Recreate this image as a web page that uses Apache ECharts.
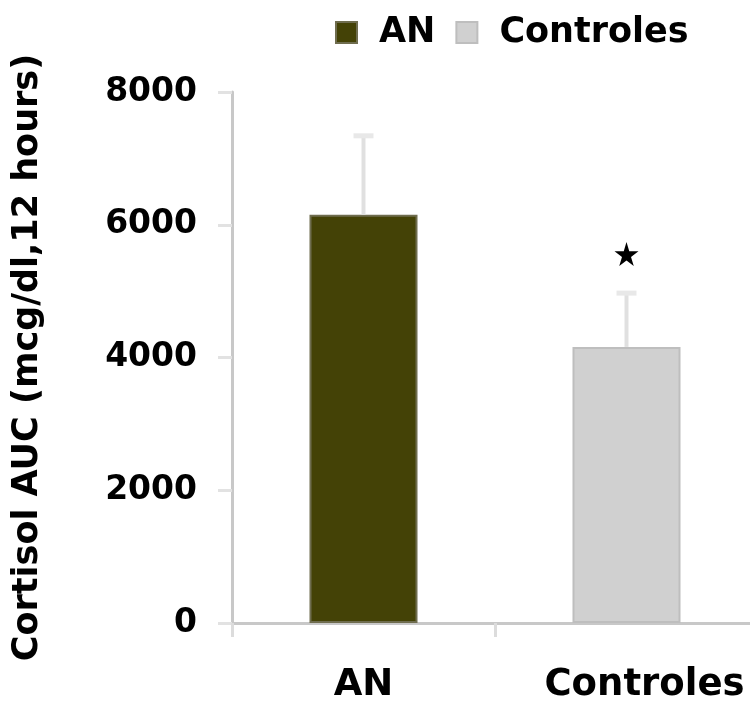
<!DOCTYPE html>
<html>
<head>
<meta charset="utf-8">
<script src="https://cdn.jsdelivr.net/npm/echarts@6/dist/echarts.min.js"></script>
<style>
  html, body { margin: 0; padding: 0; background: #fff; }
  #chart { width: 750px; height: 711px; }
</style>
</head>
<body>
<div id="chart"></div>
<script>
const categories = ["AN", "Controles"];
const means = [6150, 4160];
const errorTops = [7340, 4970];
const starValues = ["-", 5560];
const yTicks = [0, 2000, 4000, 6000, 8000];

const FONT = "DejaVu Sans";
const colors = ["#444206", "#d0d0d0"];
const borders = ["#6f6d4f", "#bebebe"];

const chart = echarts.init(document.getElementById("chart"));

const barSeries = categories.map((name, i) => ({
  name: name,
  type: "bar",
  data: categories.map((c, j) => (j === i ? means[j] : "-")),
  barWidth: 108,
  barGap: "-100%",
  itemStyle: { color: colors[i], borderColor: borders[i], borderWidth: 2 },
  z: 2,
}));

const option = {
  animation: false,
  legend: {
    data: categories,
    top: 10,
    left: 330,
    itemWidth: 21,
    itemHeight: 21,
    itemGap: 20,
    icon: "rect",
    textStyle: {
      fontFamily: FONT,
      fontWeight: "bold",
      fontSize: 35,
      color: "#000",
      padding: [4, 0, 0, 17],
    },
  },
  grid: {
    left: 232, right: -8, top: 92, bottom: 88,
    containLabel: false,
    outerBoundsMode: "none",
  },
  xAxis: {
    type: "category",
    data: [
      categories[0],
      { value: categories[1], textStyle: { padding: [0, 0, 0, 36] } },
    ],
    axisLine: { lineStyle: { color: "#c8c8c8", width: 3 } },
    axisTick: { show: true, length: 14, lineStyle: { color: "#dcdcdc", width: 3 } },
    axisLabel: {
      interval: 0,
      hideOverlap: false,
      margin: 44,
      fontFamily: FONT,
      fontWeight: "bold",
      fontSize: 37,
      color: "#000",
    },
  },
  yAxis: {
    type: "value",
    min: 0,
    max: yTicks[yTicks.length - 1],
    interval: 2000,
    name: "Cortisol AUC (mcg/dl,12 hours)",
    nameLocation: "middle",
    nameGap: 187,
    nameTextStyle: {
      fontFamily: FONT,
      fontWeight: "bold",
      fontSize: 35,
      color: "#000",
    },
    axisLine: { show: true, lineStyle: { color: "#c8c8c8", width: 3 } },
    axisTick: { show: true, length: 14, lineStyle: { color: "#e2e2e2", width: 3 } },
    splitLine: { show: false },
    axisLabel: {
      margin: 35,
      formatter: (v) => String(v),
      fontFamily: FONT,
      fontWeight: "bold",
      fontSize: 33,
      color: "#000",
    },
  },
  series: [
    ...barSeries,
    {
      name: "error",
      type: "custom",
      data: categories.map((c, i) => [i, means[i], errorTops[i]]),
      z: 3,
      renderItem: function (params, api) {
        const base = api.coord([api.value(0), api.value(1)]);
        const top = api.coord([api.value(0), api.value(2)]);
        const capHalf = 10;
        return {
          type: "group",
          children: [
            {
              type: "line",
              shape: { x1: base[0], y1: base[1], x2: top[0], y2: top[1] },
              style: { stroke: "#e0e0e0", lineWidth: 4 },
            },
            {
              type: "line",
              shape: { x1: top[0] - capHalf, y1: top[1], x2: top[0] + capHalf, y2: top[1] },
              style: { stroke: "#e8e8e8", lineWidth: 5 },
            },
          ],
        };
      },
    },
    {
      name: "sig",
      type: "scatter",
      data: starValues,
      symbol: "path://M50,0 L61,35 L98,35 L68,57 L79,91 L50,70 L21,91 L32,57 L2,35 L39,35 Z",
      symbolSize: 24,
      itemStyle: { color: "#000", opacity: 1 },
      z: 4,
    },
  ],
};

chart.setOption(option);
</script>
</body>
</html>
